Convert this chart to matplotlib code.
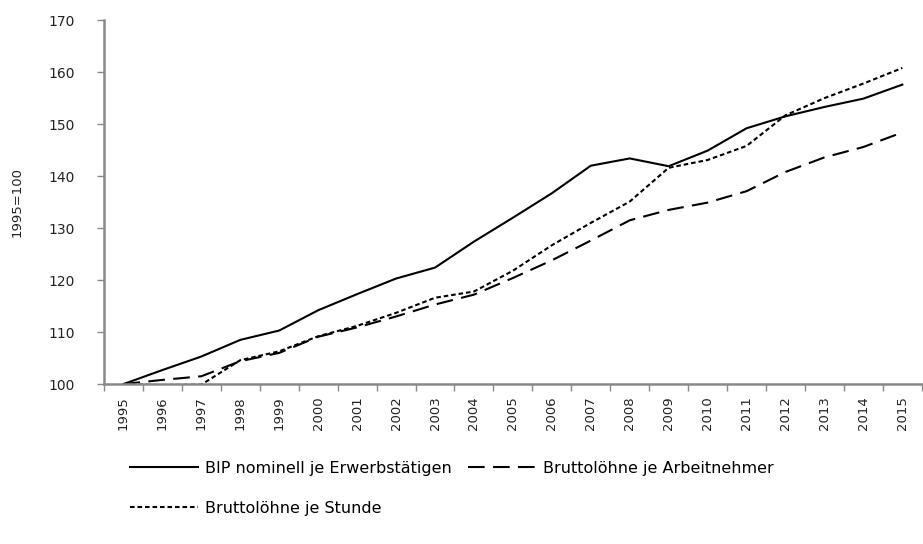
import matplotlib
matplotlib.use("Agg")
import matplotlib.pyplot as plt
from matplotlib.ticker import FixedLocator

years = [str(y) for y in range(1995, 2016)]
bip = [100, 102.7, 105.3, 108.5, 110.3, 114.2, 117.3, 120.3, 122.4, 127.4, 132.0,
       136.7, 142.0, 143.4, 141.9, 144.9, 149.2, 151.5, 153.3, 154.9, 157.6]
arbeitnehmer = [100, 100.8, 101.5, 104.4, 106.0, 109.1, 110.9, 113.0, 115.3, 117.2, 120.4,
                123.8, 127.6, 131.5, 133.5, 134.9, 137.1, 140.8, 143.6, 145.6, 148.4]
stunde = [100, 99.8, 99.9, 104.6, 106.3, 109.2, 111.2, 113.7, 116.6, 117.8, 121.8,
          126.7, 131.0, 135.1, 141.6, 143.1, 145.8, 151.7, 155.0, 157.8, 160.8]

labels = ["BIP nominell je Erwerbstätigen", "Bruttolöhne je Arbeitnehmer", "Bruttolöhne je Stunde"]

plt.rcParams['font.family'] = ['DejaVu Sans']
fig = plt.figure(figsize=(9.23, 5.44), dpi=100)
ax = fig.add_axes([0.1127, 0.294, 0.886, 0.669])

x = list(range(len(years)))
l1, = ax.plot(x, bip, color='black', lw=1.5, linestyle='-')
l2, = ax.plot(x, arbeitnehmer, color='black', lw=1.5, linestyle=(0, (8, 4)))
l3, = ax.plot(x, stunde, color='black', lw=1.5, linestyle=(0, (2.2, 1.4)))

ax.set_xlim(-0.5, len(years) - 0.5)
ax.set_ylim(100, 170)
ax.set_yticks(range(100, 171, 10))
ax.set_xticks(x)
ax.set_xticklabels(years, rotation=90)
ax.xaxis.set_minor_locator(FixedLocator([i - 0.5 for i in range(len(years) + 1)]))
ax.tick_params(axis='x', which='major', length=0, pad=9, labelsize=9.5, colors='#222222')
ax.tick_params(axis='x', which='minor', length=5, color='#888888', width=1)
ax.tick_params(axis='y', length=5, color='#888888', width=1, labelsize=10, labelcolor='#222222', pad=16)

for s in ['top', 'right']:
    ax.spines[s].set_visible(False)
for s in ['left', 'bottom']:
    ax.spines[s].set_color('#888888')
    ax.spines[s].set_linewidth(1.8)

ax.set_ylabel("1995=100", fontsize=9.5, color='#222222', labelpad=18)

fig.legend([l1, l3, l2], [labels[0], labels[2], labels[1]], ncol=2,
           loc='upper left', bbox_to_anchor=(0.125, 0.179), frameon=False,
           fontsize=11.5, handlelength=4.25, handletextpad=0.45, columnspacing=1.0,
           labelspacing=1.55)

fig.savefig("out.png", dpi=100)
